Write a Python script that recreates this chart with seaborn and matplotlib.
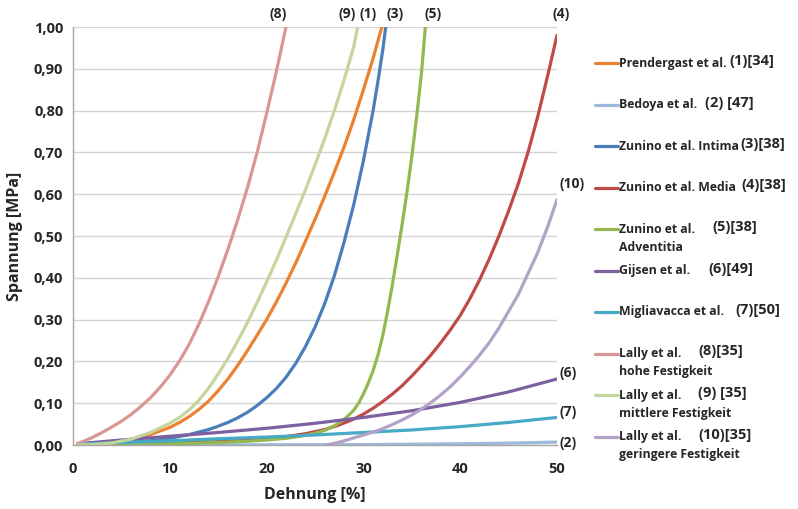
import numpy as np
import pandas as pd
import seaborn as sns
import matplotlib.pyplot as plt
from matplotlib.lines import Line2D
from matplotlib.ticker import FuncFormatter

# values (strain in %, stress in MPa)
x1 = [0.5, 2, 4, 6, 8, 10, 11, 12, 13, 14, 15, 16, 17, 18, 19, 20, 21, 22, 23, 24, 25, 26, 27, 28, 29, 30, 31, 31.9]
y1 = [0.0, 0.001, 0.004, 0.012, 0.025, 0.042, 0.054, 0.068, 0.085, 0.105, 0.13, 0.158, 0.19, 0.225, 0.262,
      0.30, 0.342, 0.387, 0.435, 0.487, 0.54, 0.595, 0.653, 0.713, 0.778, 0.85, 0.925, 1.0]

x2 = [0.5, 10, 20, 30, 35, 40, 45, 50]
y2 = [0.0, 0.0002, 0.0005, 0.001, 0.002, 0.003, 0.0045, 0.007]

x3 = [0.5, 4, 8, 10, 12, 14, 15, 16, 17, 18, 19, 20, 21, 22, 23, 24, 25, 26, 27, 28, 29, 30, 31, 31.5, 32, 32.3]
y3 = [0.0, 0.003, 0.01, 0.016, 0.025, 0.037, 0.045, 0.054, 0.065, 0.078, 0.094, 0.113, 0.135, 0.162, 0.195,
      0.235, 0.282, 0.338, 0.405, 0.485, 0.575, 0.68, 0.80, 0.87, 0.945, 1.0]

x4 = [0.5, 5, 10, 15, 20, 22, 24, 26, 27.5, 29, 30, 31, 32, 33, 34, 35, 36, 37, 38, 39, 40, 41, 42, 43, 44,
      45, 46, 47, 48, 49, 50]
y4 = [0.0, 0.002, 0.004, 0.008, 0.015, 0.02, 0.027, 0.037, 0.048, 0.062, 0.074, 0.088, 0.104, 0.122, 0.142,
      0.165, 0.19, 0.216, 0.245, 0.276, 0.31, 0.35, 0.395, 0.445, 0.50, 0.56, 0.625, 0.70, 0.785, 0.88, 0.98]

x5 = [0.5, 5, 10, 15, 18, 20, 22, 23.5, 25, 26, 27, 28, 29, 29.5, 30, 30.5, 31, 31.5, 32, 32.5, 33, 33.5,
      34, 34.5, 35, 35.5, 36, 36.4]
y5 = [0.0, 0.001, 0.003, 0.006, 0.009, 0.012, 0.016, 0.021, 0.028, 0.035, 0.046, 0.061, 0.083, 0.10, 0.122,
      0.148, 0.178, 0.215, 0.262, 0.32, 0.385, 0.455, 0.528, 0.605, 0.69, 0.785, 0.89, 1.0]

x6 = [0.5, 5, 10, 15, 20, 25, 30, 35, 40, 45, 50]
y6 = [0.003, 0.012, 0.021, 0.030, 0.040, 0.052, 0.066, 0.082, 0.102, 0.127, 0.158]

x7 = [0.5, 5, 10, 15, 20, 25, 30, 35, 40, 45, 50]
y7 = [0.002, 0.006, 0.010, 0.015, 0.019, 0.024, 0.030, 0.036, 0.044, 0.054, 0.066]

x8 = [0.5, 1, 2, 3, 4, 5, 6, 7, 8, 9, 10, 11, 12, 13, 14, 15, 16, 17, 18, 19, 20, 21, 22]
y8 = [0.004, 0.008, 0.018, 0.030, 0.043, 0.057, 0.073, 0.092, 0.113, 0.138, 0.167, 0.201, 0.241, 0.289, 0.343,
      0.403, 0.468, 0.538, 0.614, 0.698, 0.793, 0.893, 1.0]

x9 = [0.5, 2, 4, 6, 8, 10, 11, 12, 13, 14, 15, 16, 17, 18, 19, 20, 21, 22, 23, 24, 25, 26, 27, 28, 29, 29.4]
y9 = [0.0, 0.001, 0.005, 0.014, 0.03, 0.052, 0.066, 0.084, 0.107, 0.136, 0.17, 0.207, 0.248, 0.292, 0.34,
      0.39, 0.442, 0.497, 0.553, 0.61, 0.67, 0.733, 0.80, 0.873, 0.953, 1.0]

x10 = [26.2, 27, 28, 29, 30, 31, 32, 33, 34, 35, 36, 37, 38, 39, 40, 41, 42, 43, 44, 45, 46, 47, 48, 49, 50]
y10 = [0.0, 0.004, 0.01, 0.017, 0.024, 0.031, 0.039, 0.049, 0.06, 0.072, 0.086, 0.102, 0.12, 0.14, 0.163,
       0.188, 0.215, 0.245, 0.28, 0.32, 0.36, 0.41, 0.46, 0.52, 0.587]

names = [['Prendergast et al.'], ['Bedoya et al.'], ['Zunino et al. Intima'], ['Zunino et al. Media'],
         ['Zunino et al.', 'Adventitia'], ['Gijsen et al.'], ['Migliavacca et al.'],
         ['Lally et al.', 'hohe Festigkeit'], ['Lally et al.', 'mittlere Festigkeit'],
         ['Lally et al.', 'geringere Festigkeit']]
refs = ['(1)[34]', '(2) [47]', '(3)[38]', '(4)[38]', '(5)[38]', '(6)[49]', '(7)[50]',
        '(8)[35]', '(9) [35]', '(10)[35]']
colors = ['#EB8233', '#9DB9DC', '#4A7EBB', '#BE4B48', '#93B84F', '#7D60A0', '#46AAC5',
          '#D99694', '#C3D69B', '#B3A2C7']

xs = [x1, x2, x3, x4, x5, x6, x7, x8, x9, x10]
ys = [y1, y2, y3, y4, y5, y6, y7, y8, y9, y10]

frames = []
for i, (xv, yv) in enumerate(zip(xs, ys)):
    frames.append(pd.DataFrame({'Dehnung': xv, 'Spannung': yv, 'Kurve': i + 1}))
df = pd.concat(frames, ignore_index=True)

sns.set_style('white')
plt.rcParams['font.family'] = ['Open Sans', 'DejaVu Sans']
text_col = '#262626'

fig = plt.figure(figsize=(7.98, 5.09), dpi=100)
ax = fig.add_axes([0.0915, 0.1257, 0.6065, 0.8212])

sns.lineplot(data=df, x='Dehnung', y='Spannung', hue='Kurve', units='Kurve', estimator=None,
             palette=dict(zip(range(1, 11), colors)), linewidth=2.3, legend=False, ax=ax,
             sort=False)

ax.set_xlim(0, 50)
ax.set_ylim(0, 1.0)
ax.set_xticks(np.arange(0, 51, 10))
ax.set_yticks(np.arange(0, 1.01, 0.1))
ax.yaxis.set_major_formatter(FuncFormatter(lambda v, p: f'{v:.2f}'.replace('.', ',')))
ax.grid(axis='y', color='#D4D4D4', linewidth=1.0)
ax.grid(axis='x', visible=False)
ax.set_axisbelow(True)
for s in ['top', 'right']:
    ax.spines[s].set_visible(False)
for s in ['left', 'bottom']:
    ax.spines[s].set_color('#A6A6A6')
    ax.spines[s].set_linewidth(1.0)
ax.tick_params(axis='x', direction='out', length=4, width=1, color='#A6A6A6', pad=8,
               labelsize=10.5, labelcolor=text_col)
ax.tick_params(axis='y', direction='out', length=4, width=1, color='#A6A6A6', pad=3,
               labelsize=10.5, labelcolor=text_col)
for lab in ax.get_xticklabels() + ax.get_yticklabels():
    lab.set_fontweight('bold')

ax.set_xlabel('Dehnung [%]', fontsize=11.5, fontweight='bold', color=text_col)
ax.set_ylabel('Spannung [MPa]', fontsize=11.5, fontweight='bold', color=text_col)
ax.xaxis.set_label_coords(0.5, -0.1)
ax.yaxis.set_label_coords(-0.103, 0.5)

# curve labels at the line ends
top_labels = [('(8)', 21.2), ('(9)', 28.3), ('(1)', 30.5), ('(3)', 33.3), ('(5)', 37.2), ('(4)', 50.4)]
for t, xp in top_labels:
    ax.text(xp, 1.03, t, ha='center', va='center', fontsize=10, fontweight='bold',
            color=text_col, clip_on=False)
side_labels = [('(10)', 0.624), ('(6)', 0.173), ('(7)', 0.080), ('(2)', 0.006)]
for t, yp in side_labels:
    ax.text(50.3, yp, t, ha='left', va='center', fontsize=10, fontweight='bold',
            color=text_col, clip_on=False)

# legend drawn by hand, one entry every ~41.5 px
ref_x = [729, 705, 740, 741, 712, 708, 735, 698, 698, 698]
W, H = 798, 509
for i in range(10):
    yc = 63 + 41.5 * i
    fig.add_artist(Line2D([595 / W, 618 / W], [1 - yc / H, 1 - yc / H], color=colors[i], lw=2.3))
    for j, line in enumerate(names[i]):
        fig.text(619 / W, 1 - (yc + 18 * j) / H, line, ha='left', va='center', fontsize=8.8,
                 fontweight='bold', color=text_col)
    fig.text(ref_x[i] / W, 1 - (yc - 2) / H, refs[i], ha='left', va='center', fontsize=10.5,
             fontweight='bold', color=text_col)

fig.savefig('out.png', dpi=100)
